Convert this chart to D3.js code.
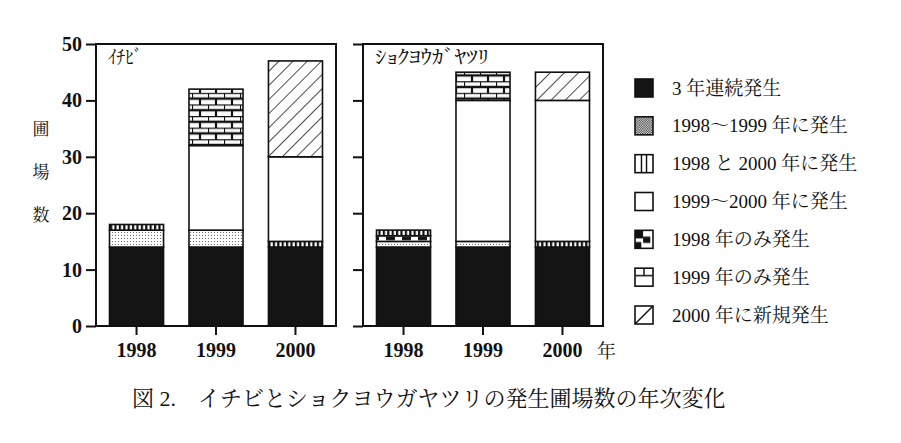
<!DOCTYPE html>
<html>
<head>
<meta charset="utf-8">
<script src="https://cdn.jsdelivr.net/npm/d3@7"></script>
<style>
  body { margin: 0; background: #fff; }
  svg { display: block; }
</style>
</head>
<body>
<div id="chart"></div>
<script>
// years on the x axis
const years = ["1998", "1999", "2000"];

// legend categories (legend order)
const categories = [
  "3年連続発生",
  "1998～1999年に発生",
  "1998と2000年に発生",
  "1999～2000年に発生",
  "1998年のみ発生",
  "1999年のみ発生",
  "2000年に新規発生"
];

// legend texts as printed (with the small gaps)
const legendLabels = [
  "3 年連続発生",
  "1998～1999 年に発生",
  "1998 と 2000 年に発生",
  "1999～2000 年に発生",
  "1998 年のみ発生",
  "1999 年のみ発生",
  "2000 年に新規発生"
];

// order segments are stacked from the bottom
const stackOrder = [
  "3年連続発生",
  "1998～1999年に発生",
  "1998年のみ発生",
  "1998と2000年に発生",
  "1999～2000年に発生",
  "1999年のみ発生",
  "2000年に新規発生"
];

// values per category (rows follow `categories`), columns 1998, 1999, 2000
const ichibiValues = [
  [14, 14, 14],
  [3, 3, 0],
  [1, 0, 1],
  [0, 15, 15],
  [0, 0, 0],
  [0, 10, 0],
  [0, 0, 17]
];

const shokuValues = [
  [14, 14, 14],
  [1, 1, 0],
  [1, 0, 1],
  [0, 25, 25],
  [1, 0, 0],
  [0, 5, 0],
  [0, 0, 5]
];

const yTicks = [0, 10, 20, 30, 40, 50];

// svg size
const W = 901;
const H = 443;

const serif = "'Liberation Serif', 'Times New Roman', serif";
const jp = "'Noto Serif CJK JP', 'Noto Sans CJK JP', sans-serif";
const mixed = "'Liberation Serif', 'Noto Serif CJK JP', 'Noto Sans CJK JP', serif";

const svg = d3
  .select("#chart")
  .append("svg")
  .attr("width", W)
  .attr("height", H)
  .style("background", "#fff");

// ---- fill patterns ----
const defs = svg.append("defs");

// stipple for 1998~1999 in bars
const pDots = defs.append("pattern")
  .attr("id", "dots")
  .attr("patternUnits", "userSpaceOnUse")
  .attr("width", 3).attr("height", 3);
pDots.append("rect").attr("width", 3).attr("height", 3).attr("fill", "#fff");
pDots.append("circle").attr("cx", 1.5).attr("cy", 1.5).attr("r", 0.6).attr("fill", "#555");

// vertical comb stripes for 1998 and 2000
const pStripes = defs.append("pattern")
  .attr("id", "stripes")
  .attr("patternUnits", "userSpaceOnUse")
  .attr("width", 4.4).attr("height", 10);
pStripes.append("rect").attr("width", 4.4).attr("height", 10).attr("fill", "#fff");
pStripes.append("rect").attr("width", 2.2).attr("height", 10).attr("fill", "#111");

// block checker for 1998 only
const pChecker = defs.append("pattern")
  .attr("id", "checker")
  .attr("patternUnits", "userSpaceOnUse")
  .attr("width", 16).attr("height", 11.2);
pChecker.append("rect").attr("width", 16).attr("height", 11.2).attr("fill", "#fff");
pChecker.append("rect").attr("x", 2).attr("y", 1.5).attr("width", 9).attr("height", 3.5).attr("fill", "#111");
pChecker.append("rect").attr("x", 10).attr("y", 7.1).attr("width", 9).attr("height", 3.5).attr("fill", "#111");

// brick for 1999 only
const pBrick = defs.append("pattern")
  .attr("id", "brick")
  .attr("patternUnits", "userSpaceOnUse")
  .attr("width", 16).attr("height", 11.6);
pBrick.append("rect").attr("width", 16).attr("height", 11.6).attr("fill", "#fff");
pBrick.append("path")
  .attr("d", "M0,0H16M0,5.8H16M0,0V5.8M8,5.8V11.6")
  .attr("stroke", "#111").attr("stroke-width", 2.2).attr("fill", "none");

// diagonal hatch for new in 2000
const pHatch = defs.append("pattern")
  .attr("id", "hatch")
  .attr("patternUnits", "userSpaceOnUse")
  .attr("width", 10).attr("height", 10)
  .attr("patternTransform", "rotate(45)");
pHatch.append("rect").attr("width", 10).attr("height", 10).attr("fill", "#fff");
pHatch.append("line").attr("x1", 0).attr("y1", 0).attr("x2", 0).attr("y2", 10)
  .attr("stroke", "#111").attr("stroke-width", 1.5);

// legend versions, drawn in swatch units
function bboxPattern(id) {
  return defs.append("pattern")
    .attr("id", id)
    .attr("patternUnits", "objectBoundingBox")
    .attr("patternContentUnits", "objectBoundingBox")
    .attr("width", 1).attr("height", 1);
}
const lw = 0.08;

const lDots = defs.append("pattern")
  .attr("id", "ldots")
  .attr("patternUnits", "userSpaceOnUse")
  .attr("width", 2.4).attr("height", 2.4);
lDots.append("rect").attr("width", 2.4).attr("height", 2.4).attr("fill", "#fff");
lDots.append("rect").attr("width", 1.2).attr("height", 1.2).attr("fill", "#222");
lDots.append("rect").attr("x", 1.2).attr("y", 1.2).attr("width", 1.2).attr("height", 1.2).attr("fill", "#222");

const lStripes = bboxPattern("lstripes");
lStripes.append("rect").attr("width", 1).attr("height", 1).attr("fill", "#fff");
lStripes.append("path").attr("d", "M0.36,0V1M0.64,0V1")
  .attr("stroke", "#111").attr("stroke-width", lw);

const lChecker = bboxPattern("lchecker");
lChecker.append("rect").attr("width", 1).attr("height", 1).attr("fill", "#fff");
lChecker.append("rect").attr("width", 0.45).attr("height", 0.45).attr("fill", "#111");
lChecker.append("rect").attr("y", 0.65).attr("width", 0.35).attr("height", 0.35).attr("fill", "#111");
lChecker.append("rect").attr("x", 0.45).attr("y", 0.35).attr("width", 0.4).attr("height", 0.35).attr("fill", "#111");

const lBrick = bboxPattern("lbrick");
lBrick.append("rect").attr("width", 1).attr("height", 1).attr("fill", "#fff");
lBrick.append("path").attr("d", "M0,0.42H1M0.5,0V0.42")
  .attr("stroke", "#111").attr("stroke-width", lw);

const lHatch = bboxPattern("lhatch");
lHatch.append("rect").attr("width", 1).attr("height", 1).attr("fill", "#fff");
lHatch.append("path").attr("d", "M0,1L1,0")
  .attr("stroke", "#111").attr("stroke-width", lw);

const barFill = d3.scaleOrdinal()
  .domain(categories)
  .range(["#141414", "url(#dots)", "url(#stripes)", "#fff", "url(#checker)", "url(#brick)", "url(#hatch)"]);

const legendFill = d3.scaleOrdinal()
  .domain(categories)
  .range(["#141414", "url(#ldots)", "url(#lstripes)", "#fff", "url(#lchecker)", "url(#lbrick)", "url(#lhatch)"]);

// ---- scales ----
const plotTop = 44;
const plotBottom = 326;
const panelW = 240;

const yScale = d3.scaleLinear().domain([0, 50]).range([plotBottom, plotTop]);

function buildTable(values) {
  return years.map((yr, j) => {
    const row = { year: yr };
    categories.forEach((c, i) => (row[c] = values[i][j]));
    return row;
  });
}

function drawPanel(x0, values, title, titleLen, showLabels) {
  const xScale = d3
    .scaleBand()
    .domain(years)
    .range([x0, x0 + panelW])
    .paddingInner(0.32)
    .paddingOuter(0.17);

  const series = d3.stack().keys(stackOrder)(buildTable(values));

  const g = svg.append("g");

  series.forEach((s) => {
    g.selectAll(null)
      .data(s.filter((d) => d[1] > d[0]))
      .enter()
      .append("rect")
      .attr("x", (d) => xScale(d.data.year))
      .attr("y", (d) => yScale(d[1]))
      .attr("width", xScale.bandwidth())
      .attr("height", (d) => yScale(d[0]) - yScale(d[1]))
      .attr("fill", barFill(s.key))
      .attr("stroke", "#111")
      .attr("stroke-width", 1.6);
  });

  // frame
  g.append("rect")
    .attr("x", x0)
    .attr("y", plotTop)
    .attr("width", panelW)
    .attr("height", plotBottom - plotTop)
    .attr("fill", "none")
    .attr("stroke", "#111")
    .attr("stroke-width", 2);

  // left axis
  const yAxis = d3.axisLeft(yScale)
    .tickValues(yTicks)
    .tickSize(10)
    .tickPadding(4)
    .tickFormat(showLabels ? d3.format("d") : () => "");

  const ya = g.append("g")
    .attr("transform", `translate(${x0},0)`)
    .call(yAxis);
  ya.select(".domain").remove();
  ya.selectAll("line").attr("stroke", "#111").attr("stroke-width", 2);
  ya.selectAll("text")
    .style("font-family", serif)
    .style("font-weight", "bold")
    .style("font-size", "20px")
    .attr("fill", "#111");

  // bottom axis
  const xAxis = d3.axisBottom(xScale).tickSize(9).tickPadding(8);
  const xa = g.append("g")
    .attr("transform", `translate(0,${plotBottom})`)
    .call(xAxis);
  xa.select(".domain").remove();
  xa.selectAll("line").attr("stroke", "#111").attr("stroke-width", 2);
  xa.selectAll("text")
    .style("font-family", serif)
    .style("font-weight", "bold")
    .style("font-size", "20px")
    .attr("fill", "#111");

  // panel title
  g.append("text")
    .attr("x", x0 + 12)
    .attr("y", plotTop + 20)
    .attr("textLength", titleLen)
    .attr("lengthAdjust", "spacingAndGlyphs")
    .style("font-family", jp)
    .style("font-size", "19px")
    .attr("fill", "#111")
    .text(title);

  return xScale;
}

drawPanel(96, ichibiValues, "ｲﾁﾋﾞ", 34, true);
drawPanel(363, shokuValues, "ｼｮｸﾖｳｶﾞﾔﾂﾘ", 114, false);

// unit label after the right axis
svg.append("text")
  .attr("x", 597)
  .attr("y", 358)
  .style("font-family", jp)
  .style("font-size", "19px")
  .attr("fill", "#111")
  .text("年");

// vertical y title
svg.selectAll(".ytitle")
  .data(["圃", "場", "数"])
  .enter()
  .append("text")
  .attr("class", "ytitle")
  .attr("x", 41)
  .attr("y", (d, i) => 127 + i * 43)
  .attr("text-anchor", "middle")
  .attr("dominant-baseline", "central")
  .style("font-family", jp)
  .style("font-size", "17px")
  .attr("fill", "#111")
  .text((d) => d);

// ---- legend ----
const legendY = d3.scalePoint().domain(categories).range([88, 315]);

const legend = svg.append("g");
const items = legend.selectAll("g")
  .data(categories)
  .enter()
  .append("g")
  .attr("transform", (d) => `translate(635,${legendY(d)})`);

items.append("rect")
  .attr("x", 0)
  .attr("y", -9)
  .attr("width", 18)
  .attr("height", 18)
  .attr("fill", (d) => legendFill(d))
  .attr("stroke", "#111")
  .attr("stroke-width", 1.6);

items.append("text")
  .attr("x", 37)
  .attr("y", 0)
  .attr("dominant-baseline", "central")
  .style("font-family", mixed)
  .style("font-size", "19px")
  .attr("fill", "#111")
  .text((d, i) => legendLabels[i]);

// caption
svg.append("text")
  .attr("x", 132)
  .attr("y", 398)
  .attr("dominant-baseline", "central")
  .style("font-family", mixed)
  .style("font-size", "22px")
  .attr("fill", "#111")
  .text("図 2.　イチビとショクヨウガヤツリの発生圃場数の年次変化");
</script>
</body>
</html>
